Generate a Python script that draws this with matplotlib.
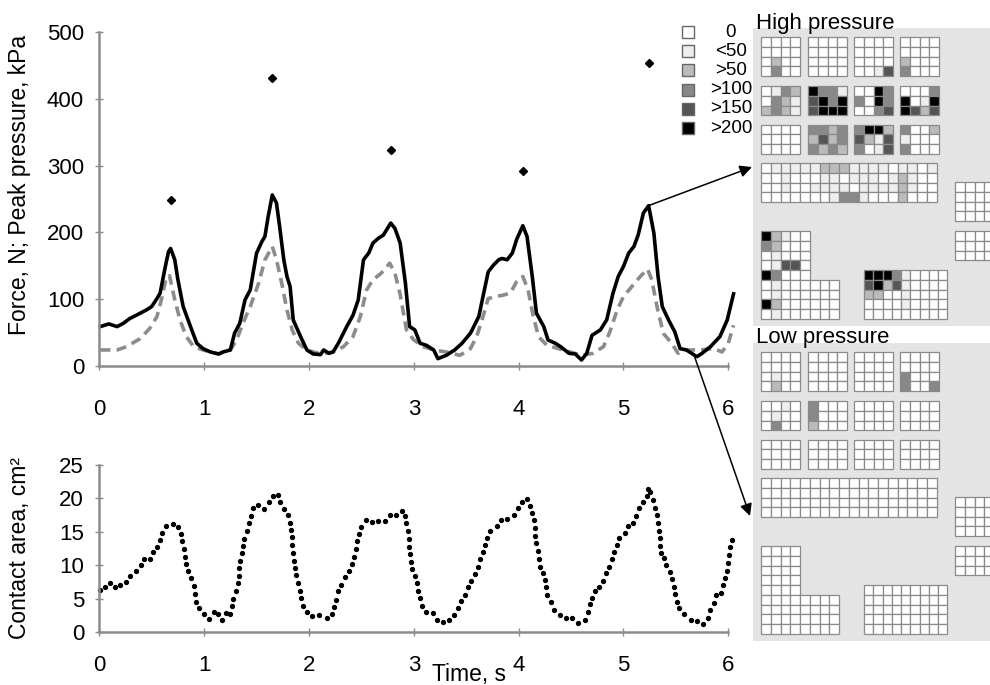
import numpy as np
import matplotlib.pyplot as plt
from matplotlib.patches import Rectangle

plt.rcParams['font.family'] = ['Liberation Sans', 'DejaVu Sans']

# time (s), force (N) - solid line
force_pts = [(0.01, 59), (0.09, 63), (0.17, 59), (0.23, 64), (0.29, 71), (0.39, 79), (0.45, 84),
             (0.50, 89), (0.55, 101), (0.58, 109), (0.63, 149), (0.66, 171), (0.68, 176), (0.72, 159),
             (0.75, 129), (0.80, 89), (0.87, 59), (0.93, 34), (0.99, 26), (1.06, 21), (1.14, 18),
             (1.18, 21), (1.25, 24), (1.29, 49), (1.34, 64), (1.39, 99), (1.44, 114), (1.50, 169),
             (1.55, 186), (1.58, 194), (1.61, 223), (1.65, 256), (1.69, 244), (1.72, 209), (1.76, 159),
             (1.79, 134), (1.82, 119), (1.85, 69), (1.92, 44), (1.98, 24), (2.04, 18), (2.11, 17),
             (2.14, 24), (2.19, 19), (2.23, 21), (2.28, 34), (2.36, 59), (2.42, 76), (2.47, 99),
             (2.52, 159), (2.57, 169), (2.61, 184), (2.66, 191), (2.71, 196), (2.78, 214), (2.82, 206),
             (2.87, 184), (2.92, 124), (2.96, 59), (3.01, 54), (3.06, 34), (3.12, 31), (3.19, 24),
             (3.23, 11), (3.31, 16), (3.39, 24), (3.46, 34), (3.54, 49), (3.62, 74), (3.66, 104),
             (3.71, 141), (3.76, 151), (3.81, 159), (3.84, 161), (3.89, 159), (3.94, 169), (3.98, 189),
             (4.04, 210), (4.08, 194), (4.13, 134), (4.17, 79), (4.24, 59), (4.28, 39), (4.35, 34),
             (4.40, 29), (4.48, 19), (4.54, 18), (4.60, 9), (4.65, 19), (4.70, 46), (4.78, 54),
             (4.84, 69), (4.90, 109), (4.95, 134), (5.00, 149), (5.05, 169), (5.10, 179), (5.14, 196),
             (5.19, 229), (5.24, 240), (5.29, 199), (5.33, 134), (5.37, 89), (5.43, 69), (5.49, 51),
             (5.54, 26), (5.60, 24), (5.70, 14), (5.75, 19), (5.83, 29), (5.92, 44), (5.99, 69),
             (6.05, 108)]

# second measure, dashed grey line
dash_pts = [(0.01, 24), (0.17, 24), (0.26, 29), (0.39, 41), (0.48, 56), (0.55, 74), (0.60, 104),
            (0.64, 134), (0.67, 135), (0.72, 99), (0.77, 69), (0.83, 44), (0.90, 29), (0.99, 24),
            (1.13, 18), (1.25, 24), (1.31, 39), (1.37, 64), (1.44, 89), (1.52, 124), (1.58, 159),
            (1.65, 179), (1.69, 159), (1.74, 124), (1.79, 84), (1.84, 54), (1.90, 34), (1.98, 24),
            (2.11, 18), (2.23, 21), (2.33, 29), (2.42, 44), (2.49, 74), (2.55, 114), (2.61, 129),
            (2.69, 139), (2.77, 154), (2.82, 139), (2.87, 107), (2.93, 54), (3.00, 39), (3.09, 29),
            (3.19, 24), (3.31, 21), (3.44, 16), (3.54, 26), (3.60, 44), (3.66, 74), (3.71, 101),
            (3.78, 104), (3.85, 106), (3.92, 109), (3.98, 126), (4.04, 134), (4.09, 114), (4.14, 74),
            (4.19, 44), (4.27, 31), (4.38, 26), (4.49, 21), (4.60, 16), (4.71, 19), (4.81, 29),
            (4.87, 51), (4.94, 84), (5.00, 104), (5.08, 119), (5.16, 134), (5.23, 145), (5.27, 129),
            (5.32, 89), (5.38, 49), (5.46, 34), (5.52, 19), (5.60, 24), (5.73, 24), (5.86, 26),
            (5.94, 21), (6.00, 34), (6.05, 61)]

# peak pressure, kPa (diamonds)
peak_t = [0.68, 1.65, 2.78, 4.04, 5.24]
peak_v = [248, 431, 323, 292, 454]

# contact area, cm2 (dotted)
area_pts = [(0.01, 6.3), (0.05, 6.7), (0.10, 7.4), (0.15, 6.8), (0.20, 7.1), (0.25, 7.5), (0.29, 8.4),
            (0.35, 9.1), (0.40, 10.0), (0.43, 11.0), (0.48, 11.0), (0.51, 12.0), (0.55, 12.8),
            (0.58, 13.8), (0.60, 14.9), (0.64, 15.9), (0.70, 16.2), (0.75, 15.8), (0.78, 14.7),
            (0.79, 13.6), (0.81, 12.5), (0.82, 11.3), (0.83, 10.2), (0.85, 9.1), (0.87, 8.1),
            (0.90, 6.9), (0.91, 5.7), (0.92, 4.6), (0.95, 3.6), (1.00, 2.7), (1.05, 2.0), (1.09, 3.0),
            (1.13, 2.7), (1.17, 1.8), (1.21, 2.9), (1.25, 2.7), (1.27, 3.9), (1.28, 5.0), (1.30, 6.2),
            (1.32, 7.3), (1.33, 8.4), (1.335, 9.6), (1.34, 10.7), (1.36, 11.8), (1.37, 12.9),
            (1.38, 14.0), (1.41, 15.2), (1.43, 16.3), (1.45, 17.4), (1.47, 18.5), (1.51, 19.0),
            (1.57, 18.4), (1.62, 19.4), (1.66, 20.3), (1.70, 20.5), (1.72, 19.4), (1.76, 18.4),
            (1.80, 17.5), (1.82, 16.4), (1.83, 15.3), (1.835, 14.2), (1.84, 13.0), (1.85, 11.8),
            (1.855, 10.7), (1.87, 9.6), (1.88, 8.5), (1.90, 7.3), (1.91, 6.2), (1.92, 5.1),
            (1.94, 3.9), (1.98, 3.0), (2.03, 2.4), (2.10, 2.6), (2.17, 2.1), (2.22, 2.7), (2.24, 3.8),
            (2.26, 4.9), (2.28, 6.1), (2.31, 7.1), (2.34, 8.2), (2.38, 9.2), (2.41, 10.2),
            (2.43, 11.3), (2.45, 12.4), (2.46, 13.6), (2.48, 14.7), (2.50, 15.8), (2.54, 16.8),
            (2.60, 16.5), (2.66, 16.6), (2.73, 16.7), (2.77, 17.5), (2.83, 17.6), (2.89, 18.1),
            (2.92, 17.4), (2.93, 16.3), (2.94, 15.1), (2.95, 13.9), (2.955, 12.8), (2.96, 11.7),
            (2.97, 10.5), (2.98, 9.4), (3.01, 8.4), (3.03, 7.3), (3.04, 6.2), (3.06, 5.1), (3.08, 4.0),
            (3.12, 3.1), (3.18, 2.9), (3.22, 1.8), (3.28, 1.5), (3.34, 1.8), (3.38, 2.6), (3.42, 3.6),
            (3.45, 4.7), (3.49, 5.6), (3.52, 6.7), (3.55, 7.7), (3.58, 8.7), (3.61, 9.8), (3.63, 10.9),
            (3.66, 12.0), (3.68, 13.0), (3.70, 14.1), (3.73, 15.2), (3.79, 15.9), (3.83, 16.8),
            (3.89, 16.9), (3.96, 17.6), (3.99, 18.6), (4.03, 19.5), (4.08, 19.9), (4.11, 18.9),
            (4.13, 17.9), (4.15, 16.8), (4.155, 15.6), (4.16, 14.4), (4.17, 13.3), (4.18, 12.2),
            (4.19, 11.0), (4.20, 9.8), (4.23, 8.9), (4.25, 7.8), (4.26, 6.7), (4.27, 5.5), (4.31, 4.5),
            (4.34, 3.4), (4.39, 2.6), (4.45, 2.2), (4.51, 2.2), (4.57, 1.4), (4.63, 1.9), (4.66, 3.0),
            (4.68, 4.2), (4.70, 5.2), (4.73, 6.1), (4.77, 6.7), (4.80, 7.7), (4.83, 8.8), (4.86, 9.8),
            (4.89, 10.9), (4.91, 12.0), (4.94, 13.1), (4.96, 14.1), (5.01, 14.9), (5.04, 15.9),
            (5.09, 16.4), (5.12, 17.4), (5.15, 18.5), (5.19, 19.4), (5.22, 20.3), (5.23, 21.4),
            (5.25, 20.9), (5.28, 19.7), (5.30, 18.6), (5.32, 17.5), (5.33, 16.4), (5.34, 15.2),
            (5.345, 14.1), (5.35, 12.9), (5.36, 11.8), (5.39, 11.1), (5.41, 10.1), (5.44, 9.0),
            (5.46, 7.9), (5.48, 6.8), (5.49, 5.7), (5.51, 4.6), (5.53, 3.6), (5.58, 2.7), (5.64, 1.9),
            (5.70, 1.7), (5.76, 1.3), (5.81, 2.2), (5.83, 3.3), (5.86, 4.4), (5.88, 5.5), (5.93, 5.8),
            (5.95, 7.0), (5.97, 8.1), (5.99, 9.2), (6.00, 10.3), (6.01, 11.5), (6.02, 12.7),
            (6.04, 13.8)]

force_ticks = [0, 100, 200, 300, 400, 500]
area_ticks = [0, 5, 10, 15, 20, 25]
time_ticks = [0, 1, 2, 3, 4, 5, 6]

legend_labels = ['0', '<50', '>50', '>100', '>150', '>200']
level_colors = ['#ffffff', '#eeeeee', '#bbbbbb', '#888888', '#555555', '#000000']

# pressure maps: level index per sensor cell (-1 = no sensor)
high_r1 = [
    [[0, 0, 0, 0], [0, 0, 0, 0], [0, 2, 0, 0], [0, 3, 0, 0]],
    [[0, 0, 0, 0], [0, 0, 0, 0], [0, 0, 0, 0], [0, 0, 0, 0]],
    [[0, 0, 0, 0], [0, 0, 0, 0], [0, 0, 0, 0], [0, 0, 1, 4]],
    [[0, 0, 0, 0], [0, 0, 0, 0], [2, 0, 0, 0], [3, 0, 0, 0]],
]
high_r2 = [
    [[0, 1, 3, 2], [0, 3, 2, 1], [2, 3, 2, 1]],
    [[5, 3, 3, 1], [4, 5, 3, 5], [4, 5, 5, 5]],
    [[0, 0, 5, 3], [3, 0, 5, 3], [0, 0, 3, 4]],
    [[0, 0, 0, 3], [5, 0, 1, 5], [5, 4, 2, 4]],
]
high_r3 = [
    [[0, 0, 0, 0], [0, 0, 0, 0], [0, 0, 0, 0]],
    [[3, 3, 2, 3], [2, 4, 2, 3], [3, 2, 3, 2]],
    [[3, 5, 5, 2], [4, 2, 1, 4], [3, 0, 1, 4]],
    [[3, 0, 0, 2], [1, 0, 0, 0], [3, 0, 0, 0]],
]
high_strip = [
    [0, 1, 1, 1, 1, 1, 2, 2, 2, 1, 1, 1, 1, 0, 1, 1, 0, 1],
    [0, 0, 1, 0, 0, 0, 1, 1, 0, 1, 1, 1, 0, 1, 2, 1, 0, 0],
    [0, 0, 1, 0, 0, 1, 1, 1, 1, 0, 1, 1, 1, 1, 2, 1, 0, 0],
    [0, 0, 0, 0, 0, 0, 0, 1, 3, 3, 1, 0, 0, 0, 2, 0, 0, 0],
]
high_heel_l = [
    [5, 2, 1, 0, 0, -1, -1, -1],
    [3, 2, 0, 0, 0, -1, -1, -1],
    [0, 1, 0, 0, 0, -1, -1, -1],
    [0, 1, 4, 4, 0, -1, -1, -1],
    [5, 3, 0, 0, 0, -1, -1, -1],
    [0, 1, 0, 0, 0, 0, 0, 0],
    [0, 1, 0, 0, 0, 0, 0, 0],
    [5, 2, 0, 0, 0, 0, 0, 0],
    [0, 1, 0, 0, 0, 0, 0, 0],
]
high_heel_r = [
    [5, 5, 5, 3, 1, 0, 0, 0, 0],
    [4, 5, 2, 4, 1, 0, 0, 0, 0],
    [2, 2, 0, 0, 1, 0, 0, 0, 0],
    [0, 0, 0, 0, 1, 0, 0, 0, 0],
    [0, 0, 0, 0, 0, 0, 0, 0, 0],
]

low_r1 = [
    [[0, 0, 0, 0], [0, 0, 0, 0], [0, 1, 0, 0], [0, 2, 0, 0]],
    [[0, 0, 0, 0], [0, 0, 0, 0], [0, 0, 0, 0], [0, 0, 0, 0]],
    [[0, 0, 0, 0], [0, 0, 0, 0], [0, 0, 0, 0], [0, 0, 0, 0]],
    [[0, 0, 0, 0], [0, 0, 0, 0], [3, 0, 0, 0], [3, 0, 0, 3]],
]
low_r2 = [
    [[0, 0, 1, 0], [0, 1, 0, 0], [0, 3, 0, 0]],
    [[3, 0, 0, 0], [3, 0, 0, 0], [2, 0, 0, 0]],
    [[0, 0, 0, 0], [0, 0, 0, 0], [0, 0, 0, 0]],
    [[0, 0, 0, 0], [0, 0, 0, 0], [0, 0, 0, 0]],
]
low_r3 = [
    [[0, 0, 0, 0], [0, 0, 0, 0], [0, 0, 0, 0]],
    [[0, 0, 0, 0], [0, 0, 0, 0], [0, 0, 0, 0]],
    [[0, 0, 0, 0], [0, 0, 0, 0], [0, 0, 0, 0]],
    [[0, 0, 0, 0], [0, 0, 0, 0], [0, 0, 0, 0]],
]
low_strip = [[0] * 18 for _ in range(4)]
low_heel_l = [
    [0, 0, 0, 0, -1, -1, -1, -1],
    [0, 0, 0, 0, -1, -1, -1, -1],
    [0, 0, 0, 0, -1, -1, -1, -1],
    [0, 0, 0, 0, -1, -1, -1, -1],
    [0, 0, 0, 0, -1, -1, -1, -1],
    [0, 0, 0, 0, 0, 0, 0, 0],
    [0, 0, 0, 0, 0, 0, 0, 0],
    [0, 0, 0, 0, 0, 0, 0, 0],
    [0, 0, 0, 0, 0, 0, 0, 0],
]
low_heel_r = [[0] * 9 for _ in range(5)]

W, H = 990, 685
fig = plt.figure(figsize=(W / 100, H / 100), dpi=100)


def px_axes(x0, x1, y0, y1):
    # axes placed in pixel coords, y measured from the top
    return fig.add_axes([x0 / W, 1 - y1 / H, (x1 - x0) / W, (y1 - y0) / H])


ax1 = px_axes(99.3, 728.3, 32, 366)
ax2 = px_axes(99.3, 728.3, 465, 632.3)

for ax in (ax1, ax2):
    for s in ('top', 'right'):
        ax.spines[s].set_visible(False)
    for s in ('left', 'bottom'):
        ax.spines[s].set_color('#8c8c8c')
        ax.spines[s].set_linewidth(1.8)
    ax.tick_params(direction='inout', length=6, width=1, color='#8c8c8c', labelsize=16)
    ax.tick_params(axis='y', pad=8)
    ax.set_xlim(0, 6)
    ax.set_xticks(time_ticks)
    ax.patch.set_alpha(0)

ax1.set_ylim(0, 500)
ax1.set_yticks(force_ticks)
ax1.tick_params(axis='x', pad=21)
ax2.set_ylim(0, 25)
ax2.set_yticks(area_ticks)
ax2.tick_params(axis='x', pad=13)

ft, fv = np.array(force_pts).T
dt, dv = np.array(dash_pts).T
at, av = np.array(area_pts).T

ax1.plot(dt, dv, color='#8c8c8c', lw=2.6, dashes=(2.8, 1.7), dash_capstyle='butt', clip_on=False)
ax1.plot(ft, fv, color='black', lw=2.6, clip_on=False)
ax1.plot(peak_t, peak_v, 'D', color='black', ms=4.5, clip_on=False)
ax2.plot(at, av, 'o', color='black', ms=2.8, clip_on=False)

fig.text(20 / W, 1 - 185 / H, 'Force, N; Peak pressure, kPa', rotation=90,
         ha='center', va='center', fontsize=16.5)
fig.text(20 / W, 1 - 548 / H, 'Contact area, cm\u00b2', rotation=90,
         ha='center', va='center', fontsize=16.5)
fig.text(469 / W, 1 - 674 / H, 'Time, s', ha='center', va='center', fontsize=16.5)

# overlay in pixel coords for the pressure maps, legend and arrows
ov = fig.add_axes([0, 0, 1, 1])
ov.set_xlim(0, W)
ov.set_ylim(H, 0)
ov.axis('off')
ov.patch.set_alpha(0)

cell = 9.75
blk_x = [761, 808, 854, 900]


def draw_block(x0, y0, lev, cw=cell):
    lev = np.asarray(lev)
    for r in range(lev.shape[0]):
        for c in range(lev.shape[1]):
            if lev[r, c] < 0:
                continue
            ov.add_patch(Rectangle((x0 + c * cw, y0 + r * cell), cw, cell,
                                   fc=level_colors[lev[r, c]], ec='#8a8a8a', lw=0.9))


def draw_panel(top, r1, r2, r3, strip, heel_l, heel_r):
    ov.add_patch(Rectangle((753, top), 240, 298, fc='#e4e4e4', ec='none'))
    for i in range(4):
        draw_block(blk_x[i], top + 9, r1[i])
        draw_block(blk_x[i], top + 58, r2[i])
        draw_block(blk_x[i], top + 96.5, r3[i])
    draw_block(761, top + 135, strip)
    draw_block(955, top + 154, np.zeros((4, 4), int))
    draw_block(955, top + 203, np.zeros((3, 4), int))
    draw_block(761, top + 203, heel_l)
    draw_block(864, top + 242, heel_r, cw=9.25)


draw_panel(28, high_r1, high_r2, high_r3, high_strip, high_heel_l, high_heel_r)
draw_panel(343, low_r1, low_r2, low_r3, low_strip, low_heel_l, low_heel_r)

ov.text(756, 29, 'High pressure', fontsize=16, va='baseline')
ov.text(756, 343, 'Low pressure', fontsize=16, va='baseline')

# legend
for i, (lab, col) in enumerate(zip(legend_labels, level_colors)):
    yc = 32 + i * 19.2
    ov.add_patch(Rectangle((682, yc - 6), 12, 12, fc=col, ec='#666666', lw=1))
    ov.text(731, yc, lab, fontsize=13.5, ha='center', va='center')

# arrows from the curve to the maps
ap = dict(arrowstyle='-|>', mutation_scale=18, lw=1.1, color='black', shrinkA=0, shrinkB=0)
ov.annotate('', xy=(752, 167), xytext=(99.3 + 5.24 * 104.8, 366 - 240 * 0.668), arrowprops=ap)
ov.annotate('', xy=(750, 516), xytext=(99.3 + 5.68 * 104.8, 366 - 14 * 0.668), arrowprops=ap)

fig.savefig('out.png', dpi=100)
